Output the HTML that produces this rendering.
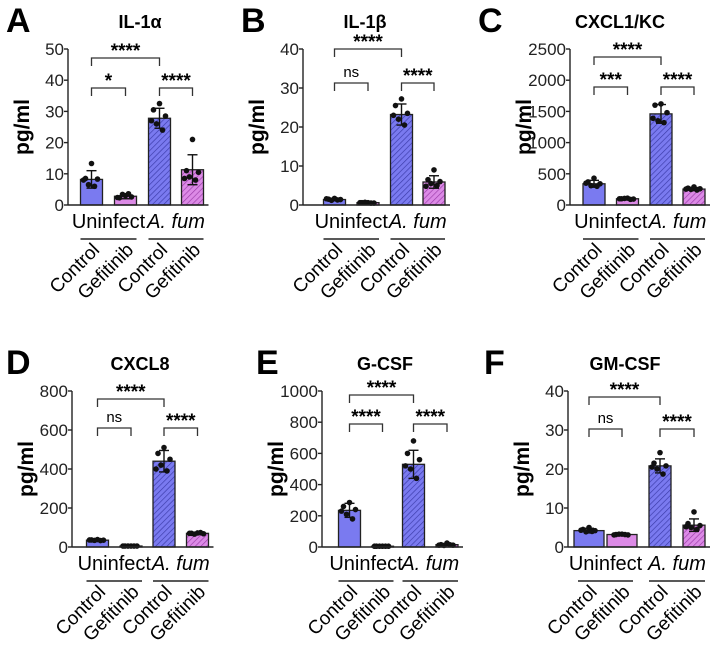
<!DOCTYPE html>
<html><head><meta charset="utf-8"><style>
html,body{margin:0;padding:0;background:#fff;}
svg{display:block;font-family:"Liberation Sans",Arial,sans-serif;}
</style></head><body>
<svg id="fig" width="720" height="645" viewBox="0 0 720 645" xmlns="http://www.w3.org/2000/svg">
<defs>
<pattern id="hb" patternUnits="userSpaceOnUse" width="4" height="4" patternTransform="rotate(45)">
<rect width="4" height="4" fill="#7a7af0"/><line x1="0" y1="0" x2="0" y2="4" stroke="#3a3aa8" stroke-width="1.3"/></pattern>
<pattern id="hp" patternUnits="userSpaceOnUse" width="4" height="4" patternTransform="rotate(45)">
<rect width="4" height="4" fill="#dc8ae6"/><line x1="0" y1="0" x2="0" y2="4" stroke="#9a3aa8" stroke-width="1.3"/></pattern>
</defs>
</svg>
<script>
// ---- data ----
const panelLetters=["A","B","C","D","E","F"];
const panelTitles=["IL-1α","IL-1β","CXCL1/KC","CXCL8","G-CSF","GM-CSF"];
const categories=["Control","Gefitinib","Control","Gefitinib"];
const groups=["Uninfect","A. fum"];
const yMaxes=[50,40,2500,800,1000,40];
const yTicks=[[0,10,20,30,40,50],[0,10,20,30,40],[0,500,1000,1500,2000,2500],[0,200,400,600,800],[0,200,400,600,800,1000],[0,10,20,30,40]];
const meansA=[8.2,2.8,27.8,11.3];
const meansB=[1.4,0.6,23.2,5.9];
const meansC=[340,100,1460,255];
const meansD=[35,5,440,70];
const meansE=[235,5,530,15];
const meansF=[4.2,3.2,20.8,5.6];
const sdA=[2.8,0.8,3.2,4.8];
const sdB=[0.3,0.1,2.7,1.6];
const sdC=[55,15,150,25];
const sdD=[5,1,55,6];
const sdE=[45,1,90,5];
const sdF=[0.6,0.2,1.8,1.6];
const pointsA=[[13.3,8.5,8.3,6.5,6,8],[3,2.3,2.6,3.4,3.6,2.4],[32.5,30.5,28.5,26,24,27],[21,11,10.5,9,8,8.5]];
const pointsB=[[1.7,1.5,1.4,1.2,1.3,1.6],[0.6,0.6,0.5,0.7,0.5,0.6],[27.2,25.5,23.5,22,20.5,23],[9,6.5,6,5.5,5,4.8]];
const pointsC=[[430,370,340,310,300,350],[110,100,95,105,90,100],[1620,1600,1480,1350,1320,1390],[290,270,260,250,240,255]];
const pointsD=[[38,36,35,34,33,36],[5,5,5,5,5,5],[510,480,450,420,390,400],[72,70,68,66,74,70]];
const pointsE=[[285,260,240,210,180,230],[5,5,5,5,5,5],[680,600,560,500,440,520],[25,15,12,10,14,12]];
const pointsF=[[5,4.5,4.2,3.9,4,4.3],[3.3,3.2,3.1,3.3,3.2,3.1],[24.2,21.5,20.8,20,18.7,20.5],[9,6,5.5,5,4.5,5.2]];
const sigTop=["****","****","****","****","****","****"];
const sigLeft=["*","ns","***","ns","****","ns"];
const sigRight=["****","****","****","****","****","****"];
const means=[meansA,meansB,meansC,meansD,meansE,meansF];
const sds=[sdA,sdB,sdC,sdD,sdE,sdF];
const points=[pointsA,pointsB,pointsC,pointsD,pointsE,pointsF];
// ---- layout ----
const axisX=[68,303,570,72,322,568];
const axisTop=[49,49,49,391,391,391];
const axisH=156;
const barOff=[[23.5,57.5,91.5,124.5],[31.5,65,98.5,131],[24,57.5,91,124],[25.5,59,92,125.5],[27.5,60.5,91.5,125],[21,54,92,126]];
const topBr=[9,0,8,8,4,6];
const lowBr=[39,34,38,37,33,38];
const letterX=[6,241,478,6,256,484];
const titleX=[140,365,620,140,385,625];
const fills=["#7a7af0","#dc8ae6","url(#hb)","url(#hp)"];
const NS="http://www.w3.org/2000/svg";
const svg=document.getElementById('fig');
function el(tag,attrs,parent,text){const e=document.createElementNS(NS,tag);for(const k in attrs)e.setAttribute(k,attrs[k]);if(text!==undefined)e.textContent=text;(parent||svg).appendChild(e);return e;}
for(let p=0;p<6;p++){
  const g=el('g',{});
  
  
  const ax=axisX[p],top=axisTop[p],base=top+axisH;
  const yS=v=>base-v/yMaxes[p]*axisH;
  const xS=i=>ax+barOff[p][i];
  const L=el('text',{x:letterX[p],y:top-17,'font-size':34,'font-weight':'bold'},g,panelLetters[p]);
  
  
  const T=el('text',{x:titleX[p],y:top-21,'font-size':18,'font-weight':'bold','text-anchor':'middle'},g,panelTitles[p]);
  
  
  const Y=el('text',{transform:`translate(${ax-39},${top+78}) rotate(-90)`,'font-size':21,'font-weight':'bold','text-anchor':'middle'},g,'pg/ml');
  
  
  const yl=el('line',{x1:ax,y1:top,x2:ax,y2:base+0.5,stroke:'#222','stroke-width':1.4},g);
  
  
  yTicks[p].forEach(t=>{
    el('line',{x1:ax-4,y1:yS(t),x2:ax,y2:yS(t),stroke:'#222','stroke-width':1.4},g);
    const tl=el('text',{x:ax-4,y:yS(t)+6,'font-size':17,'text-anchor':'end',fill:'#222'},g,String(t));
    
    
  });
  for(let i=0;i<4;i++){
    const cx=xS(i),w=(p===5&&i<2)?30:22;
    const b=el('rect',{x:cx-w/2,y:yS(means[p][i]),width:w,height:base-yS(means[p][i]),fill:fills[i],stroke:'#222','stroke-width':1.3},g);
    
    
    const hi=yS(means[p][i]+sds[p][i]),lo=yS(Math.max(0,means[p][i]-sds[p][i]));
    el('line',{x1:cx,y1:hi,x2:cx,y2:lo,stroke:'#111','stroke-width':1.4},g);
    el('line',{x1:cx-5,y1:hi,x2:cx+5,y2:hi,stroke:'#111','stroke-width':1.4},g);
    el('line',{x1:cx-5,y1:lo,x2:cx+5,y2:lo,stroke:'#111','stroke-width':1.4},g);
    points[p][i].forEach((v,k)=>{
      const off=[0,-6,6,-3,3,-8][k];
      const d=el('circle',{cx:cx+off,cy:yS(v),r:2.8,fill:'#111'},g);
      
      
    });
  }
  const xl=el('line',{x1:ax,y1:base,x2:xS(3)+16,y2:base,stroke:'#222','stroke-width':1.4},g);
  
  
  function bracket(a,b,y,label,name){
    const bg=el('g',{},g);
    
    
    el('path',{d:`M${xS(a)},${y+8}V${y}H${xS(b)}V${y+8}`,fill:'none',stroke:'#333','stroke-width':1.3},bg);
    const ns=label==='ns';
    el('text',{x:(xS(a)+xS(b))/2,y:ns?y-6:y-1,'font-size':ns?15:19,'font-weight':ns?'normal':'bold','text-anchor':'middle'},bg,label);
  }
  bracket(0,2,top+topBr[p],sigTop[p],'significance-bracket-top');
  bracket(0,1,top+lowBr[p],sigLeft[p],'significance-bracket-uninfect');
  bracket(2,3,top+lowBr[p],sigRight[p],'significance-bracket-afum');
  for(let gi=0;gi<2;gi++){
    const a=xS(gi*2),b=xS(gi*2+1),mid=(a+b)/2;
    const gt=el('text',{x:mid,y:base+23,'font-size':20,'text-anchor':'middle','font-style':gi?'italic':'normal'},g,groups[gi]);
    
    
    const gl=el('line',{x1:a-11,y1:base+34,x2:b+11,y2:base+34,stroke:'#222','stroke-width':1.4},g);
    
    
  }
  for(let i=0;i<4;i++){
    const cx=xS(i)+9,cy=base+46;
    const c=el('text',{transform:`translate(${cx},${cy}) rotate(-45)`,'font-size':19,'text-anchor':'end'},g,categories[i]);
    
    
  }
}
</script>
</body></html>
